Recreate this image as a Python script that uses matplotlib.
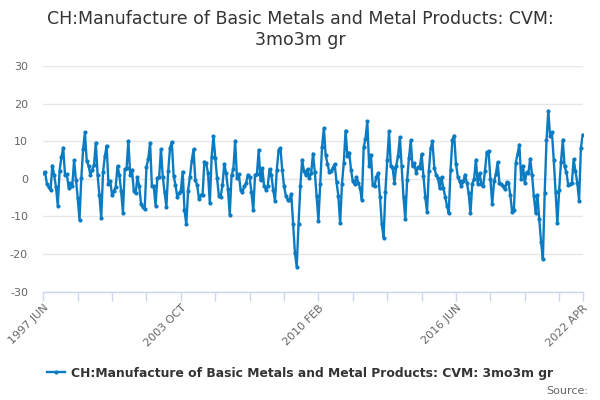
import matplotlib

matplotlib.use("Agg")
import matplotlib.pyplot as plt

# monthly series, 1997 JUN .. 2022 APR
values = [
    1.5, 1.7, -1.3, -2.2, -3.0, 3.5, 1.0, -2.2, -7.1, 2.2,
    5.7, 8.3, 1.0, 1.2, -2.3, -1.1, -2.0, 4.9, -0.2, -5.0,
    -10.9, 0.2, 7.9, 12.4, 4.7, 3.5, 1.1, 2.4, 3.6, 9.6,
    1.0, -4.3, -10.5, 1.7, 6.0, 8.8, -1.4, -0.6, -4.4, -3.3,
    -2.1, 3.4, 1.1, -3.3, -9.0, 2.6, 2.8, 10.1, 1.1, 2.4,
    -3.2, -3.8, 0.4, -2.0, -6.7, -7.5, -8.1, 3.1, 5.4, 9.6,
    -2.0, -1.9, -7.1, 0.2, 0.4, 7.9, 0.6, -3.6, -7.4, 2.0,
    8.2, 9.8, 0.8, -1.6, -4.7, -3.8, -3.1, 1.9, -8.3, -12.1,
    -3.1, 0.5, 4.8, 7.9, -0.4, -1.6, -5.4, -4.3, -4.3, 4.6,
    4.2, 1.5, -6.5, 5.8, 11.3, 5.6, 0.2, -4.5, -4.7, -1.6,
    4.0, 1.5, -2.6, -9.6, 0.9, 2.6, 10.1, 0.1, 1.3, -2.9,
    -3.6, -2.0, -1.2, 1.1, 0.4, -3.6, -8.3, 1.1, 1.2, 7.7,
    -0.4, 2.8, -2.0, -2.9, -1.9, 2.6, 1.1, -2.9, -5.9, 2.4,
    7.7, 8.2, 2.4, -1.9, -4.5, -5.6, -5.6, -4.0, -12.0, -19.6,
    -23.4, -12.1, -2.0, 5.1, 2.0, 1.0, 2.6, 0.2, 1.5, 6.7,
    1.8, -4.5, -11.1, -1.3, 8.5, 13.5, 6.3, 4.0, 1.8, 2.0,
    3.0, 3.9, -0.9, -4.5, -11.8, -1.4, 4.2, 12.8, 6.0, 7.0,
    2.4, -0.7, -1.5, 0.5, -1.0, -2.5, -5.6, 8.4, 10.7, 15.3,
    3.5, 6.4, -1.6, -1.9, 0.5, 1.5, -4.7, -12.0, -15.6, -3.4,
    4.9, 12.6, 3.3, 2.8, -1.0, 3.5, 6.2, 11.1, 3.3, -4.9,
    -10.8, -0.4, 5.5, 10.2, 3.3, 4.2, 1.5, 3.1, 2.9, 6.6,
    0.8, -4.7, -8.8, 2.0, 8.2, 10.0, 3.0, 1.1, 0.2, -2.5,
    0.4, -2.5, -4.7, -7.1, -9.2, 2.4, 10.4, 11.5, 3.9, 0.6,
    -0.7, -2.0, -0.7, 1.1, -1.0, -3.8, -9.2, -1.3, 0.0, 5.1,
    -1.3, 1.5, -1.3, -2.0, 2.0, 7.1, 7.3, 0.0, -6.7, -0.7,
    1.2, 4.4, -1.2, -1.4, -1.9, -2.8, -0.9, -1.0, -4.3, -8.7,
    -8.4, 4.2, 6.7, 9.1, 0.0, 3.5, -1.0, 1.7, 1.5, 5.4,
    1.1, -4.5, -9.2, -4.3, -10.8, -16.7, -21.4, -3.8, 10.2, 18.1,
    11.3, 12.4, 5.1, -3.4, -11.8, -2.9, 4.4, 10.4, 3.3, 1.7,
    -1.6, -1.4, -1.2, 5.2, 2.0, -1.0, -5.8, 8.2, 11.7,
]

series_name = "CH:Manufacture of Basic Metals and Metal Products: CVM: 3mo3m gr"
title = "CH:Manufacture of Basic Metals and Metal Products: CVM:\n3mo3m gr"

# tick every 19 months, labelled every 76, plus the last month
tick_months = [0, 19, 38, 57, 76, 95, 114, 133, 152, 171, 190, 209, 228, 247, 266, 285, 298]
tick_labels = {0: "1997 JUN", 76: "2003 OCT", 152: "2010 FEB", 228: "2016 JUN", 298: "2022 APR"}
y_ticks = [-30, -20, -10, 0, 10, 20, 30]

LINE = "#0b7cc2"
GRID = "#e6e6e6"
AXIS = "#ccd6eb"
TEXT = "#333333"
LABEL = "#666666"

fig = plt.figure(figsize=(6, 4), dpi=100)
ax = fig.add_axes([43.3 / 600, 1 - 291.7 / 400, 539.4 / 600, 225.7 / 400])

months = list(range(len(values)))
ax.plot(months, values, color=LINE, linewidth=1.7, marker="o", markersize=3,
        markeredgewidth=0, zorder=3, label=series_name)

ax.set_xlim(0, len(values) - 1)
ax.set_ylim(-30, 30)

ax.set_yticks(y_ticks)
ax.set_yticklabels([str(v) for v in y_ticks])
ax.tick_params(axis="y", length=0, pad=11, labelsize=8, labelcolor=LABEL)
ax.grid(axis="y", color=GRID, linewidth=1)
ax.set_axisbelow(True)

ax.set_xticks(tick_months)
ax.set_xticklabels([tick_labels.get(m, "") for m in tick_months])
ax.tick_params(axis="x", length=6.5, width=1, color=AXIS, pad=1.5,
               labelsize=8, labelcolor=LABEL)
for lbl in ax.get_xticklabels():
    lbl.set_rotation(45)
    lbl.set_ha("right")
    lbl.set_va("top")
    lbl.set_rotation_mode("anchor")

for side in ("left", "right", "top"):
    ax.spines[side].set_visible(False)
ax.spines["bottom"].set_color(AXIS)
ax.spines["bottom"].set_linewidth(1)

fig.text(0.5, 1 - 10 / 400, title, ha="center", va="top", fontsize=12.5,
         color=TEXT, linespacing=1.22)

fig.legend(loc="center", bbox_to_anchor=(0.5, 1 - 373 / 400), frameon=False,
           handlelength=1.4, handletextpad=0.5,
           prop={"weight": "bold", "size": 8.9}, labelcolor=TEXT)

fig.text(588 / 600, 1 - 391 / 400, "Source:", ha="right", va="center",
         fontsize=8, color=LABEL)

fig.savefig("out.png", dpi=100)
